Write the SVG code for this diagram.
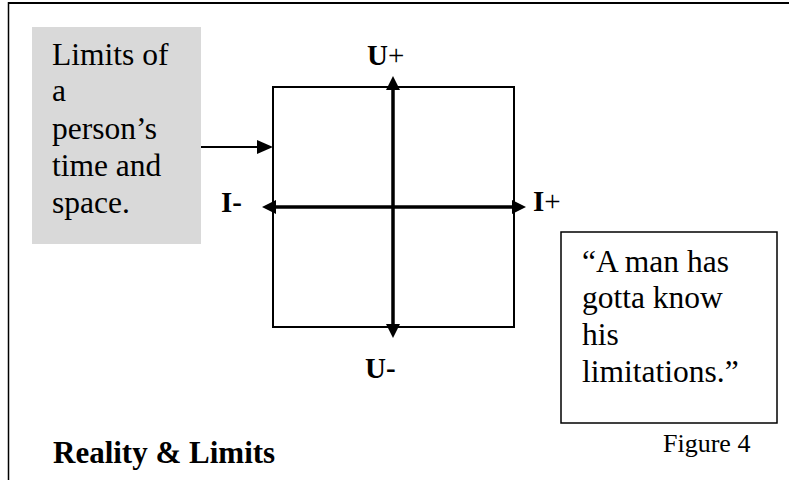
<svg xmlns="http://www.w3.org/2000/svg" width="789" height="480" viewBox="0 0 789 480">
<style>
text{font-family:'Liberation Serif','Tinos','Times New Roman','DejaVu Serif',serif;fill:#000}
.body{font-size:31.5px}
.lab{font-size:29px}
.b{font-weight:bold}
.ax{stroke:#000;stroke-width:3.5;fill:none}
</style>
<defs>
<marker id="ah" viewBox="0 0 14 14" markerWidth="14" markerHeight="14" refX="0" refY="7" orient="auto-start-reverse" markerUnits="userSpaceOnUse">
<path d="M0,0 L14,7 L0,14 z" fill="#000"/>
</marker>
<marker id="ah2" viewBox="0 0 16 14" markerWidth="16" markerHeight="14" refX="0" refY="7" orient="auto" markerUnits="userSpaceOnUse">
<path d="M0,0 L16,7 L0,14 z" fill="#000"/>
</marker>
</defs>
<rect width="789" height="480" fill="#fff"/>
<g id="frame">
<line x1="8" y1="3" x2="789" y2="3" stroke="#000" stroke-width="2"/>
<line x1="8.5" y1="2" x2="8.5" y2="480" stroke="#000" stroke-width="1.5"/>
</g>
<g id="limits-box" font-family="Liberation Serif, serif">
<rect x="32" y="27" width="169" height="217" fill="#d9d9d9"/>
<text class="body" x="52" y="65">Limits of</text>
<text class="body" x="52" y="101">a</text>
<text class="body" x="52" y="139">person’s</text>
<text class="body" x="52" y="176">time and</text>
<text class="body" x="52" y="213">space.</text>
</g>
<g id="square">
<rect x="273" y="87" width="241" height="240" fill="none" stroke="#000" stroke-width="2"/>
</g>
<g id="connectors">
<line class="ax" x1="276" y1="207" x2="512" y2="207" marker-start="url(#ah)" marker-end="url(#ah)"/>
<line class="ax" x1="393" y1="90" x2="393" y2="324" marker-start="url(#ah)" marker-end="url(#ah)"/>
<line x1="201" y1="147" x2="257" y2="147" stroke="#000" stroke-width="2" marker-end="url(#ah2)"/>
</g>
<g id="labels">
<text class="lab" x="367" y="65"><tspan class="b">U</tspan>+</text>
<text class="lab b" x="365" y="378">U-</text>
<text class="lab b" x="221" y="212">I-</text>
<text class="lab" x="533" y="211"><tspan class="b">I</tspan>+</text>
</g>
<g id="quote-box">
<rect x="561" y="232" width="216" height="191" fill="#fff" stroke="#000" stroke-width="1.5"/>
<text class="body" x="582" y="272">“A man has</text>
<text class="body" x="582" y="308">gotta know</text>
<text class="body" x="582" y="345">his</text>
<text class="body" x="582" y="382">limitations.”</text>
</g>
<g id="captions">
<text class="b" style="font-size:31px" x="53" y="463">Reality &amp; Limits</text>
<text style="font-size:26px" x="663" y="452">Figure 4</text>
</g>
</svg>
